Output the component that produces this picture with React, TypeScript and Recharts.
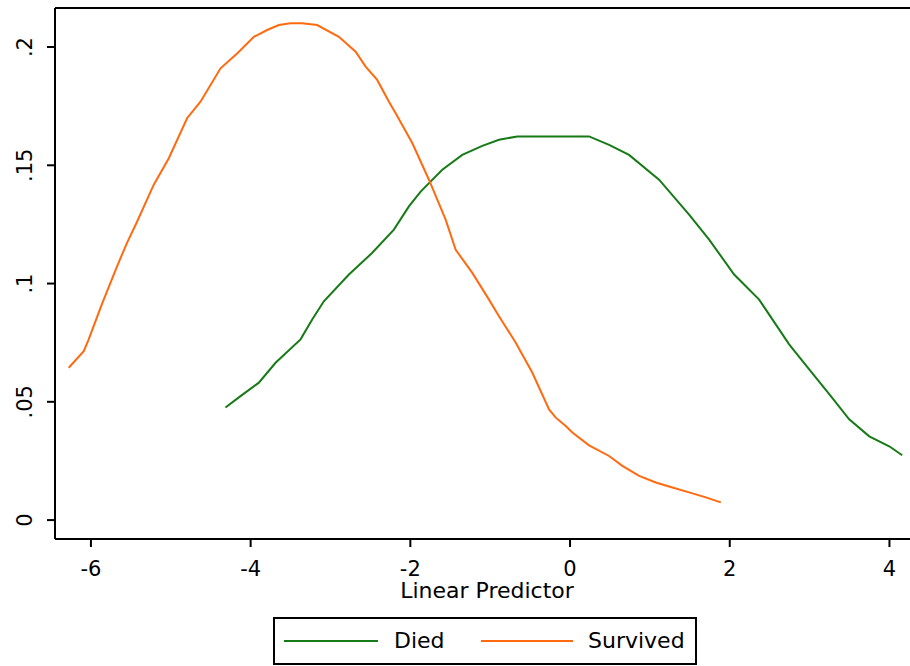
import React from 'react';
import {
  LineChart,
  Line,
  XAxis,
  YAxis,
  ReferenceLine,
  Label
} from 'recharts';

// kernel density estimates
const survivedX = [-6.278, -6.09, -6.028, -5.865, -5.673, -5.548, -5.43, -5.213, -5.025, -4.796, -4.628, -4.377, -4.169, -3.96, -3.793, -3.647, -3.5, -3.358, -3.167, -2.895, -2.685, -2.56, -2.415, -2.268, -2.184, -1.976, -1.767, -1.558, -1.432, -1.224, -1.015, -0.89, -0.68, -0.472, -0.263, -0.179, -0.054, 0.029, 0.238, 0.489, 0.655, 0.865, 1.074, 1.282, 1.491, 1.7, 1.888];
const survivedY = [0.0644, 0.0714, 0.0764, 0.0911, 0.1073, 0.1172, 0.1256, 0.1418, 0.153, 0.1699, 0.1769, 0.191, 0.1973, 0.2043, 0.2072, 0.2093, 0.21, 0.21, 0.2093, 0.2043, 0.198, 0.1917, 0.1861, 0.1769, 0.172, 0.1594, 0.1439, 0.127, 0.1143, 0.1045, 0.0932, 0.0862, 0.075, 0.0623, 0.0468, 0.0433, 0.0398, 0.037, 0.0316, 0.0271, 0.0229, 0.0187, 0.0159, 0.0138, 0.0117, 0.0096, 0.0075];

const diedX = [-4.315, -4.127, -3.897, -3.688, -3.375, -3.229, -3.083, -2.769, -2.477, -2.206, -2.018, -1.871, -1.6, -1.35, -1.099, -0.89, -0.66, 0.238, 0.489, 0.739, 1.115, 1.491, 1.742, 2.055, 2.368, 2.744, 2.995, 3.246, 3.496, 3.747, 3.997, 4.16];
const diedY = [0.0476, 0.0524, 0.0581, 0.0665, 0.0764, 0.0848, 0.0925, 0.1038, 0.113, 0.1228, 0.1326, 0.1389, 0.1481, 0.1544, 0.1582, 0.1608, 0.1622, 0.1622, 0.1586, 0.1544, 0.1439, 0.1291, 0.1186, 0.1038, 0.0932, 0.0743, 0.0637, 0.0532, 0.0426, 0.0354, 0.0312, 0.0274];

const xTicks = [-6, -4, -2, 0, 2, 4];
const yTicks = [0, 0.05, 0.1, 0.15, 0.2];
const yTickLabels = ['0', '.05', '.1', '.15', '.2'];

const xDomain = [-6.45, 4.37];
const yDomain = [-0.008, 0.2165];

const GREEN = '#167a16';
const ORANGE = '#ff6a10';
const FONT = '"DejaVu Sans", sans-serif';

const survived = survivedX.map((x, i) => ({ x, y: survivedY[i] }));
const died = diedX.map((x, i) => ({ x, y: diedY[i] }));

const YTick = (props: any) => {
  const { y, payload } = props;
  const idx = yTicks.indexOf(payload.value);
  return (
    <text
      x={25}
      y={y}
      transform={`rotate(-90, 25, ${y})`}
      textAnchor="middle"
      dominantBaseline="central"
      fontSize={21}
      fontFamily={FONT}
      fill="#000"
    >
      {idx >= 0 ? yTickLabels[idx] : payload.value}
    </text>
  );
};

export default function App() {
  return (
    <div
      style={{
        position: 'absolute',
        left: 0,
        top: 0,
        width: 910,
        height: 666,
        overflow: 'hidden',
        background: '#fff',
        fontFamily: FONT
      }}
    >
      <LineChart
        width={920}
        height={666}
        margin={{ top: 8, right: 1, left: 0, bottom: 0 }}
      >
        <XAxis
          type="number"
          dataKey="x"
          domain={xDomain}
          ticks={xTicks}
          allowDataOverflow
          height={127}
          axisLine={{ stroke: '#000', strokeWidth: 2 }}
          tickLine={{ stroke: '#000', strokeWidth: 2 }}
          tickSize={8}
          tickMargin={14}
          tick={{ fontSize: 21, fontFamily: FONT, fill: '#000' }}
        >
          <Label
            value="Linear Predictor"
            position="insideTop"
            offset={43}
            fontSize={22}
            fontFamily={FONT}
            fill="#000"
          />
        </XAxis>
        <YAxis
          type="number"
          dataKey="y"
          domain={yDomain}
          ticks={yTicks}
          allowDataOverflow
          width={55}
          axisLine={{ stroke: '#000', strokeWidth: 2 }}
          tickLine={{ stroke: '#000', strokeWidth: 2 }}
          tickSize={8}
          tick={<YTick />}
        />
        <ReferenceLine y={yDomain[1]} stroke="#000" strokeWidth={2} />
        <ReferenceLine x={xDomain[1]} stroke="#000" strokeWidth={2} />
        <Line
          data={died}
          dataKey="y"
          type="linear"
          stroke={GREEN}
          strokeWidth={2}
          dot={false}
          isAnimationActive={false}
        />
        <Line
          data={survived}
          dataKey="y"
          type="linear"
          stroke={ORANGE}
          strokeWidth={2}
          dot={false}
          isAnimationActive={false}
        />
      </LineChart>
      <div
        style={{
          position: 'absolute',
          left: 273,
          top: 617,
          width: 424,
          height: 48,
          boxSizing: 'border-box',
          border: '2px solid #000',
          fontSize: 22
        }}
      >
        <div style={{ position: 'absolute', left: 9, top: 21, width: 94, height: 2, background: GREEN }} />
        <div style={{ position: 'absolute', left: 119, top: 8, lineHeight: '28px' }}>Died</div>
        <div style={{ position: 'absolute', left: 206, top: 21, width: 92, height: 2, background: ORANGE }} />
        <div style={{ position: 'absolute', left: 313, top: 8, lineHeight: '28px' }}>Survived</div>
      </div>
    </div>
  );
}
